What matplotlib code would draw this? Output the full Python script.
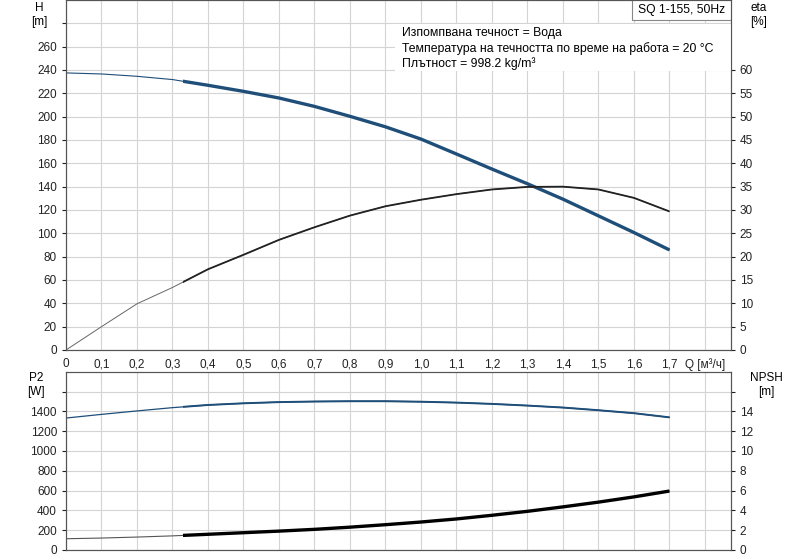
import matplotlib
matplotlib.use("Agg")
import matplotlib.pyplot as plt
from matplotlib.patches import Rectangle

plt.rcParams['font.family'] = ['Liberation Sans', 'DejaVu Sans']
plt.rcParams['font.size'] = 8.5

# flow values [m3/h]
q = [0, 0.1, 0.2, 0.3, 0.4, 0.5, 0.6, 0.7, 0.8, 0.9, 1.0, 1.1, 1.2, 1.3, 1.4, 1.5, 1.6, 1.7]
head = [237.5, 236.6, 234.6, 231.8, 226.9, 221.7, 216, 208.8, 200.3, 191.3, 180.8, 168, 155.1, 142.5, 129.3, 115, 100.7, 85.8]
eta = [0, 5.0, 9.9, 13.4, 17.3, 20.4, 23.6, 26.3, 28.8, 30.8, 32.2, 33.4, 34.4, 34.95, 35.0, 34.4, 32.6, 29.7]
p2 = [1333, 1370, 1405, 1438, 1465, 1482, 1494, 1500, 1503, 1503, 1498, 1489, 1476, 1459, 1439, 1412, 1382, 1340]
npsh = [1.13, 1.2, 1.3, 1.42, 1.58, 1.74, 1.9, 2.08, 2.3, 2.55, 2.82, 3.13, 3.5, 3.9, 4.35, 4.83, 5.36, 5.95]
q_min = 0.33  # start of the thick (operating) part

info_lines = ["Изпомпвана течност = Вода",
              "Температура на течността по време на работа = 20 °C",
              "Плътност = 998.2 kg/m³"]
title = "SQ 1-155, 50Hz"

blue = "#1f4e79"
grid_c = "#d4d4d4"
spine_c = "#555555"


def curve(ax, ys, thin_c, thick_c, thin_w, thick_w):
    ax.plot(q, ys, color=thin_c, lw=thin_w)
    line, = ax.plot(q, ys, color=thick_c, lw=thick_w, solid_capstyle="butt")
    clip = Rectangle((q_min, -1e4), 10, 2e4, transform=ax.transData, visible=False)
    ax.add_patch(clip)
    line.set_clip_path(clip)


def style(ax):
    for s in ax.spines.values():
        s.set_color(spine_c)
    ax.tick_params(colors="#222222", length=3, width=0.8)
    ax.grid(True, color=grid_c, lw=0.8)
    ax.set_axisbelow(True)


fig = plt.figure(figsize=(8, 5.6), dpi=100)
ax1 = fig.add_axes([0.0825, 0.375, 0.831, 0.625])
ax2 = fig.add_axes([0.0825, 0.018, 0.831, 0.318])

xmax = 1.873
xt = [i / 10 for i in range(19)]
xl = [("0" if i == 0 else ("%.1f" % (i / 10)).replace(".", ",")) for i in range(18)] + ["Q [м³/ч]"]

# top panel: H and eta
style(ax1)
ax1.set_xlim(0, xmax)
ax1.set_ylim(0, 300)
ax1.set_xticks(xt)
ax1.set_xticklabels(xl)
ax1.set_yticks(range(0, 300, 20))
ax1.set_yticklabels([str(v) if v <= 260 else "" for v in range(0, 300, 20)])
ax1.tick_params(axis="x", length=0, pad=6)

ax1b = ax1.twinx()
ax1b.set_ylim(0, 75)
ax1b.set_yticks(range(0, 65, 5))
for s in ax1b.spines.values():
    s.set_color(spine_c)
ax1b.tick_params(colors="#222222", length=3, width=0.8)

# white boxes for the info text and the title
ax1b.add_patch(Rectangle((0.495, 0.797), 0.505, 0.134, transform=ax1.transAxes,
                         fc="white", ec="none", zorder=1))
ax1b.add_patch(Rectangle((0.851, 0.943), 0.149, 0.057, transform=ax1.transAxes,
                         fc="white", ec="#888888", lw=0.8, zorder=1))
ax1b.text(0.9255, 0.971, title, transform=ax1.transAxes, ha="center", va="center",
          fontsize=8.7, zorder=2)
ax1b.text(0.505, 0.922, "\n".join(info_lines), transform=ax1.transAxes, ha="left", va="top",
          fontsize=8.8, linespacing=1.25, zorder=2)

curve(ax1b, [h / 4 for h in head], blue, blue, 0.8, 2.4)
curve(ax1b, eta, "#666666", "#222222", 0.7, 1.3)

ax1.text(-0.04, 0.994, "H\n[m]", transform=ax1.transAxes, ha="center", va="top", fontsize=8.5)
ax1.text(1.042, 0.994, "eta\n[%]", transform=ax1.transAxes, ha="center", va="top", fontsize=8.5)

# bottom panel: P2 and NPSH
style(ax2)
ax2.set_xlim(0, xmax)
ax2.set_ylim(0, 1800)
ax2.set_xticks(xt)
ax2.set_xticklabels([])
ax2.tick_params(axis="x", length=0)
ax2.set_yticks(range(0, 1800, 200))
ax2.set_yticklabels([str(v) if v <= 1400 else "" for v in range(0, 1800, 200)])

ax2b = ax2.twinx()
ax2b.set_ylim(0, 18)
ax2b.set_yticks(range(0, 18, 2))
ax2b.set_yticklabels([str(v) if v <= 14 else "" for v in range(0, 18, 2)])
for s in ax2b.spines.values():
    s.set_color(spine_c)
ax2b.tick_params(colors="#222222", length=3, width=0.8)

curve(ax2b, [p / 100 for p in p2], blue, blue, 0.9, 1.4)
curve(ax2b, npsh, "#555555", "black", 0.8, 2.4)

ax2.text(-0.045, 1.0, "P2\n[W]", transform=ax2.transAxes, ha="center", va="top", fontsize=8.5)
ax2.text(1.054, 1.0, "NPSH\n[m]", transform=ax2.transAxes, ha="center", va="top", fontsize=8.5)

fig.savefig("out.png", dpi=100)
